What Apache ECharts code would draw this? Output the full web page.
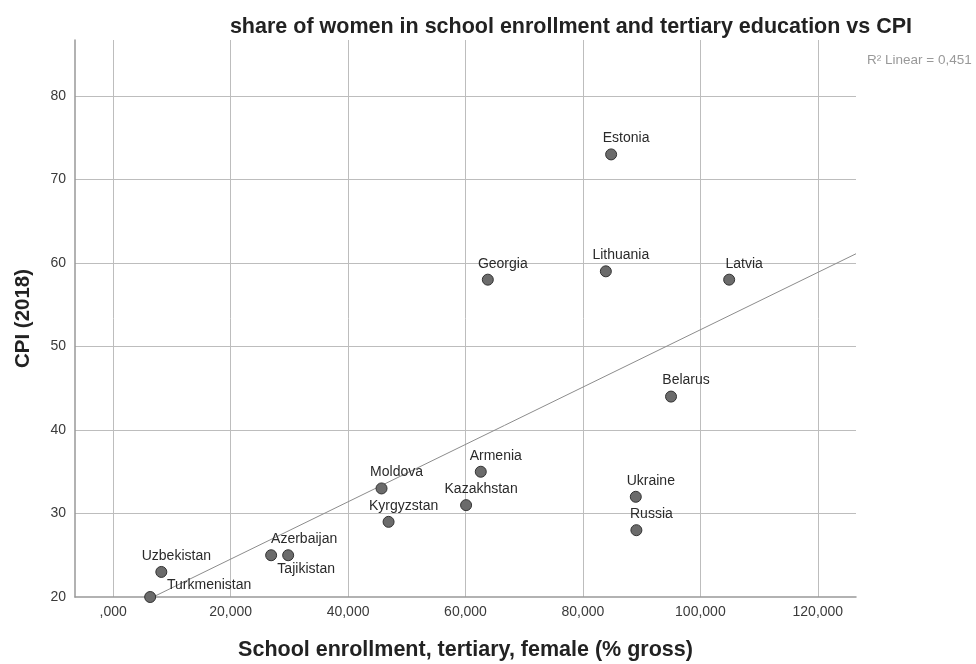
<!DOCTYPE html>
<html>
<head>
<meta charset="utf-8">
<script src="https://cdn.jsdelivr.net/npm/echarts@6/dist/echarts.min.js"></script>
<style>
  html, body { margin: 0; padding: 0; background: #fff; }
  #chart { width: 976px; height: 664px; }
</style>
</head>
<body>
<div id="chart"></div>
<script>
// data
const countries = ['Estonia', 'Georgia', 'Lithuania', 'Latvia', 'Belarus', 'Armenia', 'Kazakhstan',
  'Ukraine', 'Russia', 'Moldova', 'Kyrgyzstan', 'Azerbaijan', 'Tajikistan', 'Uzbekistan', 'Turkmenistan']
const enrollment = [84.8, 63.8, 83.9, 104.9, 95.0, 62.6, 60.1, 89.0, 89.1, 45.7, 46.9, 26.9, 29.8, 8.2, 6.3]
const cpi = [73, 58, 59, 58, 44, 35, 31, 32, 28, 33, 29, 25, 25, 23, 20]
const yTicks = [20, 30, 40, 50, 60, 70, 80]

const xMin = -6.5, xMax = 126.5
const yMin = 20, yMax = 86.7

// label placement (only where SPSS moved the label)
const labelOffset = {
  Azerbaijan: [33, 0],
  Turkmenistan: [59, 4],
}

// linear fit (least squares) for the reference line
const n = enrollment.length
const mx = enrollment.reduce((a, b) => a + b, 0) / n
const my = cpi.reduce((a, b) => a + b, 0) / n
let sxy = 0, sxx = 0
for (let i = 0; i < n; i++) {
  sxy += (enrollment[i] - mx) * (cpi[i] - my)
  sxx += (enrollment[i] - mx) ** 2
}
const slope = sxy / sxx
const intercept = my - slope * mx
const fitStart = (yMin - intercept) / slope

const chart = echarts.init(document.getElementById('chart'))

const option = {
  backgroundColor: '#fff',
  animation: false,
  textStyle: { fontFamily: 'Liberation Sans, Arial, sans-serif' },
  title: [
    {
      text: 'share of women in school enrollment and tertiary education vs CPI',
      left: 566,
      top: 11,
      textAlign: 'center',
      textStyle: { fontSize: 21.5, fontWeight: 'bold', color: '#222' },
    },
    {
      text: 'R² Linear = 0,451',
      left: 862,
      top: 48,
      textStyle: { fontSize: 13.5, fontWeight: 'normal', color: '#999' },
    },
  ],
  grid: { left: 75, right: 120, top: 40, bottom: 67, outerBoundsMode: 'none' },
  xAxis: {
    type: 'value',
    min: xMin,
    max: xMax,
    minInterval: 20,
    maxInterval: 20,
    name: 'School enrollment, tertiary, female (% gross)',
    nameLocation: 'middle',
    nameGap: 42,
    nameTextStyle: { fontSize: 21.5, fontWeight: 'bold', color: '#222' },
    axisLine: { onZero: false, lineStyle: { color: '#999', width: 1.5 } },
    axisTick: { show: false },
    axisLabel: {
      color: '#3a3a3a',
      fontSize: 14,
      margin: 8,
      showMinLabel: false,
      showMaxLabel: false,
      formatter: (v) => (v === 0 ? ',000' : v.toFixed(3).replace('.', ',')),
    },
    splitLine: { show: true, showMinLine: false, showMaxLine: false, lineStyle: { color: '#bdbdbd', width: 1 } },
  },
  yAxis: {
    type: 'value',
    min: yMin,
    max: yMax,
    minInterval: 10,
    maxInterval: 10,
    name: 'CPI (2018)',
    nameLocation: 'middle',
    nameGap: 41,
    nameTextStyle: { fontSize: 20.5, fontWeight: 'bold', color: '#222' },
    axisLine: { show: true, onZero: false, lineStyle: { color: '#999', width: 1.5 } },
    axisTick: { show: false },
    axisLabel: {
      color: '#3a3a3a',
      fontSize: 14,
      margin: 9,
      showMaxLabel: false,
      formatter: (v) => (yTicks.includes(v) ? String(v) : ''),
    },
    splitLine: { show: true, showMinLine: false, showMaxLine: false, lineStyle: { color: '#bdbdbd', width: 1 } },
  },
  series: [
    {
      type: 'line',
      data: [[fitStart, yMin], [xMax, intercept + slope * xMax]],
      symbol: 'none',
      silent: true,
      lineStyle: { color: '#8c8c8c', width: 1 },
      z: 1,
    },
    {
      type: 'scatter',
      symbol: 'circle',
      symbolSize: 11,
      z: 3,
      itemStyle: { color: '#6b6b6b', borderColor: '#333', borderWidth: 1, opacity: 1 },
      label: {
        show: true,
        position: 'top',
        distance: 3,
        color: '#2a2a2a',
        fontSize: 14,
        formatter: (p) => p.data.name,
      },
      data: countries.map((name, i) => {
        const item = { name, value: [enrollment[i], cpi[i]] }
        if (name === 'Tajikistan') {
          item.label = { position: 'bottom', distance: 1, offset: [18, 0] }
        } else {
          item.label = { offset: labelOffset[name] || [15, 0] }
        }
        return item
      }),
    },
  ],
}

chart.setOption(option)
</script>
</body>
</html>
